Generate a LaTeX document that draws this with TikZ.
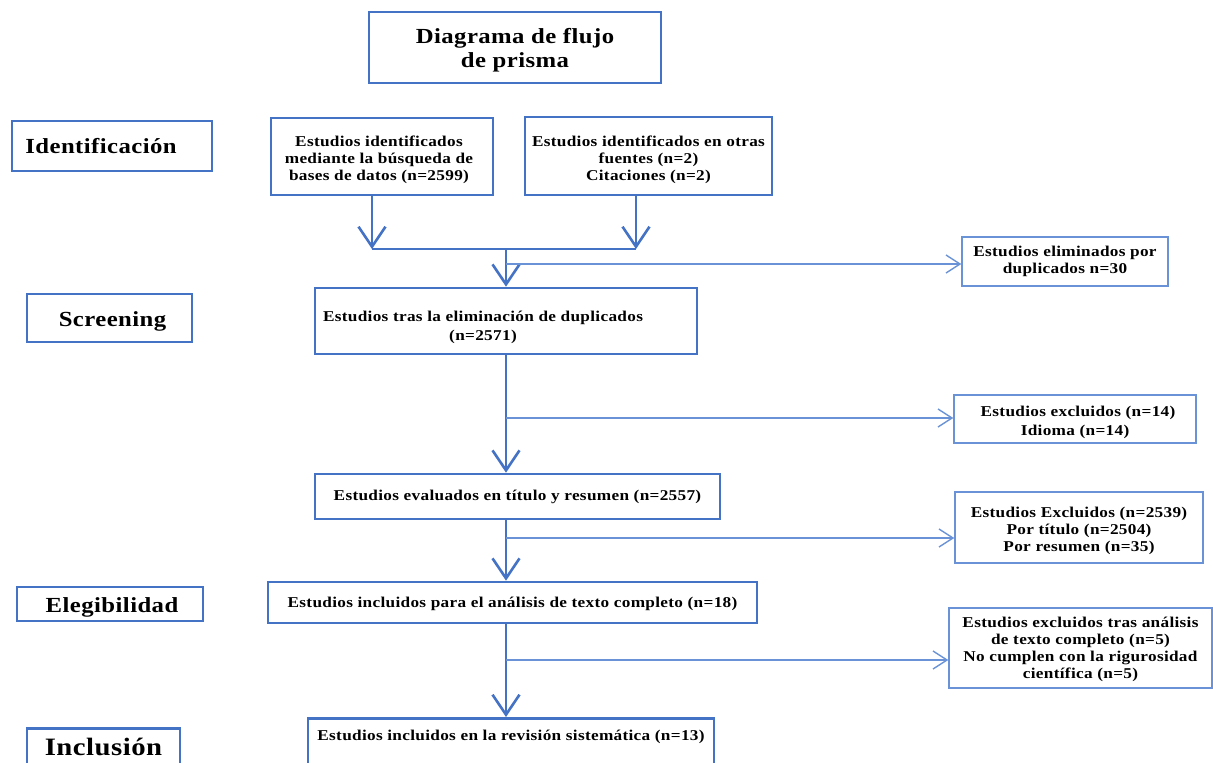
\documentclass[tikz,border=0pt]{standalone}
\usepackage{fontspec}
\setmainfont{Liberation Serif}[LetterSpace=2,FakeStretch=1.15]
\usetikzlibrary{arrows.meta}
\definecolor{bl}{HTML}{4472C4}
\definecolor{bll}{HTML}{6A92D6}
\newcommand\dn[2]{\raisebox{-#1}[\height][\depth]{\begin{tabular}{@{}c@{}}#2\end{tabular}}}
\tikzset{
  bigbox/.style={draw=bl, line width=2.6pt, inner sep=0pt, align=center, font=\bfseries\fontsize{15}{17}\selectfont},
  smallbox/.style={draw=bll, line width=1.4pt, inner sep=0pt, align=center, font=\bfseries\fontsize{15}{17}\selectfont},
  stagebox/.style={draw=bl, line width=2.6pt, inner sep=0pt, align=center, font=\bfseries\fontsize{21.5}{22}\selectfont},
  thickarr/.style={draw=bl, line width=2.6pt, -{Straight Barb[length=20pt,width=27pt,line width=2.6pt]}},
  thickline/.style={draw=bl, line width=2.6pt},
  thinarr/.style={draw=bll, line width=1.4pt, -{Straight Barb[length=14pt,width=18pt,line width=1.4pt]}}
}
\begin{document}
\begin{tikzpicture}[x=1pt,y=-1pt]
\useasboundingbox (0,0) rectangle (1213,763);
% title
\node[bigbox, minimum width=292pt, minimum height=71pt, font=\bfseries\fontsize{21.5}{24}\selectfont] (T) at (515,47.5) {\dn{3pt}{Diagrama de flujo\\de prisma}};
% stage labels
\node[stagebox, minimum width=200pt, minimum height=50pt] (S1) at (112,146) {Identificación\hspace*{22pt}};
\node[stagebox, minimum width=165pt, minimum height=48pt] (S2) at (109.5,318) {\hspace*{6pt}\dn{4pt}{Screening}};
\node[stagebox, minimum width=186pt, minimum height=34pt] (S3) at (110,604) {\hspace*{4pt}\dn{4pt}{Elegibilidad}};
\node[stagebox, minimum width=153pt, minimum height=50pt, font=\bfseries\fontsize{25}{26}\selectfont, anchor=north] (S4) at (103.5,727) {\raisebox{12pt}{Inclusión}};
% main boxes
\node[bigbox, minimum width=222pt, minimum height=77pt] (A) at (382,156.5) {\dn{4pt}{Estudios identificados\\mediante la búsqueda de\\bases de datos (n=2599)}\hspace*{6pt}};
\node[bigbox, minimum width=247pt, minimum height=78pt] (B) at (648.5,156) {\dn{4pt}{Estudios identificados en otras\\fuentes (n=2)\\Citaciones (n=2)}};
\node[bigbox, minimum width=382pt, minimum height=66pt] (C) at (506,321) {\dn{7pt}{Estudios tras la eliminación de duplicados\\[2pt](n=2571)}\hspace*{46pt}};
\node[bigbox, minimum width=405pt, minimum height=45pt] (D) at (517.5,496.5) {Estudios evaluados en título y resumen (n=2557)};
\node[bigbox, minimum width=489pt, minimum height=41pt] (E) at (512.5,602.5) {\dn{2pt}{Estudios incluidos para el análisis de texto completo (n=18)}};
\node[bigbox, minimum width=406pt, minimum height=60pt, anchor=north] (F) at (511,717) {\raisebox{0pt}[\height][26pt]{Estudios incluidos en la revisión sistemática (n=13)}};
% side boxes
\node[smallbox, minimum width=206pt, minimum height=49pt] (X1) at (1065,261.5) {Estudios eliminados por\\duplicados n=30};
\node[smallbox, minimum width=242pt, minimum height=48pt] (X2) at (1075,419) {\dn{4pt}{\hspace*{6pt}Estudios excluidos (n=14)\\[2pt]Idioma (n=14)}};
\node[smallbox, minimum width=248pt, minimum height=71pt] (X3) at (1079,527.5) {\dn{4pt}{Estudios Excluidos (n=2539)\\Por título (n=2504)\\Por resumen (n=35)}};
\node[smallbox, minimum width=263pt, minimum height=80pt] (X4) at (1080.5,648) {\dn{2pt}{Estudios excluidos tras análisis\\de texto completo (n=5)\\No cumplen con la rigurosidad\\científica (n=5)}};
% junctions
\coordinate (jA) at (372,249);
\coordinate (jB) at (636,249);
\coordinate (m1) at (506,249);
\coordinate (b1) at (506,264);
\coordinate (b2) at (506,418);
\coordinate (b3) at (506,538);
\coordinate (b4) at (506,660);
% connectors
\draw[thickarr] (A.south -| jA) -- (jA);
\draw[thickarr] (B.south -| jB) -- (jB);
\draw[thickline] (jA) -- (jB);
\draw[thickarr] (m1) -- (m1 |- C.north);
\draw[thinarr] (b1) -- (X1.west |- b1);
\draw[thickarr] (C.south -| b2) -- (b2 |- D.north);
\draw[thinarr] (b2) -- (X2.west |- b2);
\draw[thickarr] (D.south -| b3) -- (b3 |- E.north);
\draw[thinarr] (b3) -- (X3.west |- b3);
\draw[thickarr] (E.south -| b4) -- (b4 |- F.north);
\draw[thinarr] (b4) -- (X4.west |- b4);
\end{tikzpicture}
\end{document}
